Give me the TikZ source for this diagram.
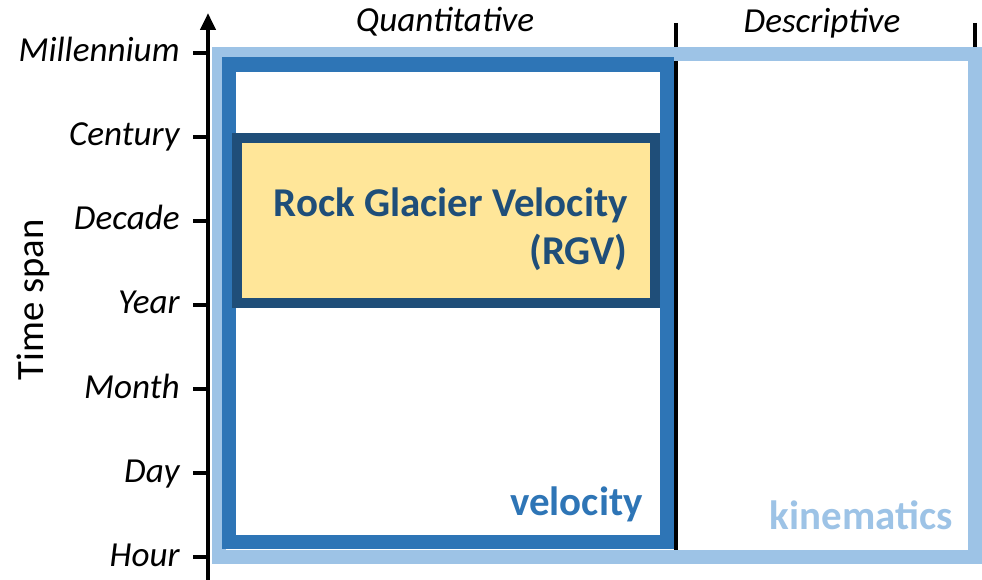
\documentclass[tikz,border=0pt]{standalone}
\usepackage{fontspec}
\setmainfont{Carlito}
\usetikzlibrary{arrows.meta}
\definecolor{lightblue}{HTML}{9DC3E6}
\definecolor{midblue}{HTML}{2E75B6}
\definecolor{navy}{HTML}{1F4E79}
\definecolor{paleyellow}{HTML}{FFE699}

\begin{document}
\begin{tikzpicture}[x = 0.02cm, y = -0.02cm,
  timelabel/.style = {anchor = base east, inner sep = 0pt, font = \fontsize{20}{24}\selectfont\itshape},
  classlabel/.style = {anchor = base, inner sep = 0pt, font = \fontsize{20}{24}\selectfont\itshape},
  boxlabel/.style = {anchor = base east, inner sep = 0pt, font = \fontsize{23.3}{27.8}\selectfont\bfseries}]
\useasboundingbox (0, 0) rectangle (982, 580);
%\draw[very thin, color = gray](0, 0) grid [step = 50] (982, 580);
\draw [line width = 1.8pt] (676, 23) -- (676, 557);
\draw [line width = 1.8pt] (975, 23) -- (975, 54);
\draw [line width = 8.5pt, color = lightblue] (219, 54) rectangle (975, 557);
\draw [line width = 8pt, color = midblue] (229, 64.5) rectangle (667, 542);
\draw [line width = 5.7pt, color = navy, fill = paleyellow] (237, 138) rectangle (654.5, 303);
\draw [line width = 2.4pt, -{Triangle[length = 0.34cm, width = 0.3cm]}] (208, 580) -- (208, 13);
\foreach \y/\name in {53/Millennium, 137/Century, 221/Decade, 305/Year, 389/Month, 473/Day, 557/Hour}
{
  \draw [line width = 2.4pt] (193, \y) -- (208, \y);
  \node (tick-\name) [timelabel] at (180, \y + 9) {\name};
}
\node (timespan) [rotate = 90, anchor = base, inner sep = 0pt, font = \fontsize{22}{26}\selectfont] at (43, 300) {Time span};
\node (quant) [classlabel] at (445, 32) {Quantitative};
\node (descr) [classlabel] at (822, 33) {Descriptive};
\node (rgv) [boxlabel, align = right, text = navy] at (628, 265) {Rock Glacier Velocity\\(RGV)};
\node (vel) [boxlabel, text = midblue] at (643, 515) {velocity};
\node (kin) [boxlabel, text = lightblue] at (953, 529) {kinematics};
\end{tikzpicture}
\end{document}
